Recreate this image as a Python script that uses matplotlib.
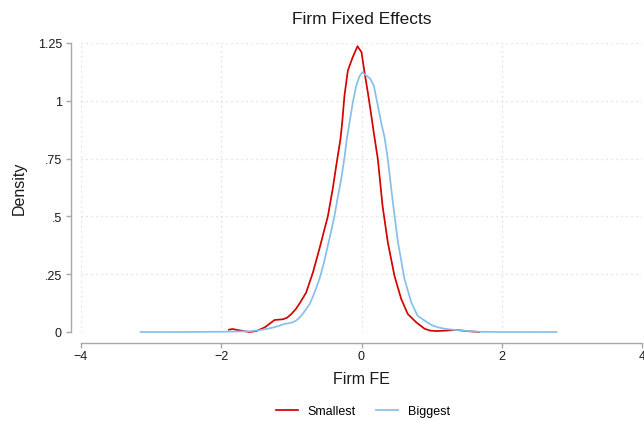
import matplotlib.pyplot as plt

# kernel density of firm fixed effects
smallest_x = [-1.89, -1.84, -1.74, -1.6, -1.5, -1.38, -1.30, -1.24, -1.12, -1.06, -1.0,
              -0.94, -0.88, -0.79, -0.69, -0.6, -0.54, -0.48, -0.41, -0.36, -0.30, -0.275,
              -0.243, -0.195, -0.13, -0.057, 0.0, 0.043, 0.09, 0.14, 0.176, 0.233, 0.30,
              0.375, 0.47, 0.566, 0.66, 0.78, 0.9, 0.98, 1.07, 1.2, 1.35, 1.5, 1.68]
smallest_y = [0.010, 0.013, 0.007, 0.0, 0.004, 0.020, 0.038, 0.052, 0.055, 0.062, 0.078,
              0.098, 0.125, 0.170, 0.260, 0.360, 0.430, 0.500, 0.620, 0.720, 0.835, 0.907,
              1.022, 1.130, 1.185, 1.236, 1.210, 1.123, 1.037, 0.936, 0.860, 0.748, 0.546,
              0.388, 0.243, 0.143, 0.078, 0.042, 0.014, 0.006, 0.004, 0.006, 0.009, 0.004, 0.0]

biggest_x = [-3.15, -2.6, -2.03, -1.6, -1.45, -1.36, -1.25, -1.17, -1.09, -1.05, -0.98,
             -0.93, -0.88, -0.83, -0.74, -0.67, -0.6, -0.54, -0.48, -0.43, -0.385, -0.34,
             -0.29, -0.24, -0.21, -0.17, -0.124, -0.076, -0.03, 0.01, 0.067, 0.128, 0.176,
             0.233, 0.28, 0.33, 0.375, 0.447, 0.52, 0.613, 0.71, 0.80, 0.946, 1.02, 1.12,
             1.21, 1.33, 1.45, 1.68, 2.0, 2.4, 2.78]
biggest_y = [0.0, 0.0, 0.001, 0.003, 0.008, 0.013, 0.020, 0.027, 0.036, 0.037, 0.042,
             0.050, 0.063, 0.082, 0.120, 0.170, 0.229, 0.295, 0.373, 0.440, 0.503, 0.580,
             0.660, 0.760, 0.835, 0.907, 0.993, 1.065, 1.105, 1.123, 1.110, 1.094, 1.065,
             0.979, 0.907, 0.840, 0.748, 0.561, 0.388, 0.229, 0.128, 0.070, 0.040, 0.027, 0.018,
             0.013, 0.009, 0.006, 0.001, 0.0, 0.0, 0.0]

x_ticks = [-4, -2, 0, 2, 4]
x_tick_labels = ['\u22124', '\u22122', '0', '2', '4']
y_ticks = [0, 0.25, 0.5, 0.75, 1, 1.25]
y_tick_labels = ['0', '.25', '.5', '.75', '1', '1.25']

plt.rcParams['font.family'] = ['Liberation Sans', 'DejaVu Sans']

fig = plt.figure(figsize=(6.44, 4.27), dpi=100)
ax = fig.add_axes([81 / 644, 94 / 427, 561 / 644, 289 / 427])

ax.plot(smallest_x, smallest_y, color='#d40000', lw=1.25, label='Smallest', clip_on=False, zorder=3)
ax.plot(biggest_x, biggest_y, color='#86c0ea', lw=1.25, label='Biggest', clip_on=False, zorder=3)

ax.set_xlim(-4, 4)
ax.set_ylim(0, 1.25)
ax.set_xticks(x_ticks)
ax.set_xticklabels(x_tick_labels)
ax.set_yticks(y_ticks)
ax.set_yticklabels(y_tick_labels)

# Stata-like axes: offset spines, dotted grid
for side in ['top', 'right']:
    ax.spines[side].set_visible(False)
ax.spines['left'].set_position(('outward', 7.2))
ax.spines['bottom'].set_position(('outward', 7.6))
for side in ['left', 'bottom']:
    ax.spines[side].set_color('#a8a8a8')
    ax.spines[side].set_linewidth(1.0)
ax.tick_params(axis='both', colors='#a8a8a8', labelcolor='#1a1a1a', labelsize=9, length=3.5, width=1.0)
ax.tick_params(axis='y', pad=3)
ax.tick_params(axis='x', pad=2)
ax.grid(True, color='#d8d8d8', linestyle=(0, (1, 3)), linewidth=0.9)
ax.set_axisbelow(True)

ax.set_xlabel('Firm FE', fontsize=11.5, color='#1a1a1a', labelpad=6)
ax.set_ylabel('Density', fontsize=11.5, color='#1a1a1a', labelpad=8)
fig.text(361.5 / 644, 1 - 20 / 427, 'Firm Fixed Effects', ha='center', va='center',
         fontsize=12.5, color='#1a1a1a')

fig.legend(loc='center', bbox_to_anchor=(363 / 644, 1 - 412 / 427), ncol=2, frameon=False,
           fontsize=9, handlelength=1.75, handletextpad=0.8, columnspacing=1.6)

fig.savefig('out.png', dpi=100)
